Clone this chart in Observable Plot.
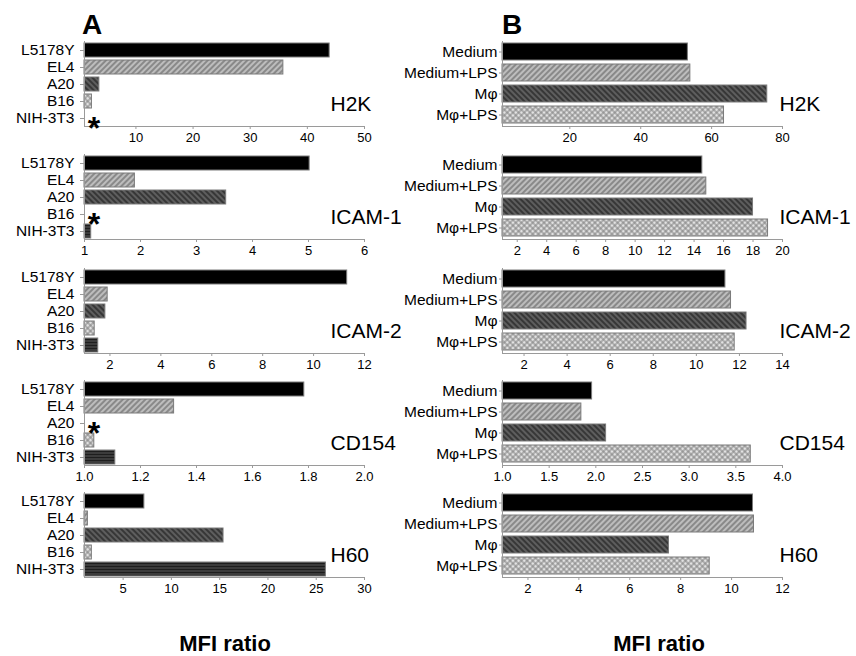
<!DOCTYPE html>
<html><head><meta charset="utf-8">
<script src="https://cdn.jsdelivr.net/npm/d3@7"></script>
<script src="https://cdn.jsdelivr.net/npm/@observablehq/plot@0.6"></script>
<style>
body{margin:0;background:#fff;font-family:"Liberation Sans",Arial,sans-serif;}
#wrap{position:relative;width:856px;height:656px;overflow:hidden;background:#fff;}
.big{position:absolute;font-weight:bold;font-size:28px;line-height:28px;}
.xl{position:absolute;font-weight:bold;font-size:22px;line-height:22px;width:160px;text-align:center;}
</style></head><body>
<svg width="0" height="0" style="position:absolute">
<defs>
<pattern id="pEL4" width="4" height="4" patternUnits="userSpaceOnUse" patternTransform="rotate(45)">
<rect width="4" height="4" fill="#bdbdbd"/><line x1="2" y1="0" x2="2" y2="4" stroke="#666" stroke-width="1.2"/></pattern>
<pattern id="pA20" width="4" height="4" patternUnits="userSpaceOnUse" patternTransform="rotate(-45)">
<rect width="4" height="4" fill="#5e5e5e"/><line x1="2" y1="0" x2="2" y2="4" stroke="#262626" stroke-width="1.4"/></pattern>
<pattern id="pB16" width="4" height="4" patternUnits="userSpaceOnUse" patternTransform="rotate(45)">
<rect width="4" height="4" fill="#e2e2e2"/><line x1="2" y1="0" x2="2" y2="4" stroke="#7e7e7e" stroke-width="1"/><line x1="0" y1="2" x2="4" y2="2" stroke="#7e7e7e" stroke-width="1"/></pattern>
<pattern id="pNIH" width="4" height="3" patternUnits="userSpaceOnUse">
<rect width="4" height="3" fill="#3c3c3c"/><line x1="0" y1="1.5" x2="4" y2="1.5" stroke="#1e1e1e" stroke-width="1"/></pattern>
</defs></svg>
<div id="wrap">
<div class="big" style="left:82px;top:11px">A</div>
<div class="big" style="left:502px;top:11px">B</div>
<div class="xl" style="left:145px;top:633px">MFI ratio</div>
<div class="xl" style="left:579px;top:633px">MFI ratio</div>
</div>
<script>
// ---- data ----
const cellLines = ["L5178Y", "EL4", "A20", "B16", "NIH-3T3"];
const treatments = ["Medium", "Medium+LPS", "M\u03C6", "M\u03C6+LPS"];
const markers = ["H2K", "ICAM-1", "ICAM-2", "CD154", "H60"];
const ratioBaseline = 1;

// Panel A (cell lines); null = not detected (marked by *)
const aH2K   = [43.9, 35.8, 3.6, 2.3, null];
const aICAM1 = [5.02, 1.9, 3.53, null, 1.12];
const aICAM2 = [11.32, 1.91, 1.82, 1.4, 1.54];
const aCD154 = [1.785, 1.32, null, 1.035, 1.11];
const aH60   = [7.2, 1.35, 15.4, 1.76, 26.0];

// Panel B (treatments)
const bH2K   = [53.3, 54.0, 75.7, 63.5];
const bICAM1 = [14.56, 14.83, 18.0, 19.02];
const bICAM2 = [11.35, 11.61, 12.33, 11.78];
const bCD154 = [1.96, 1.845, 2.11, 3.66];
const bH60   = [10.84, 10.88, 7.54, 9.14];

// axis domains and ticks
const domA = [[1, 50], [1, 6], [1, 12], [1, 2], [1, 30]];
const domB = [[1, 80], [1, 20], [1, 14], [1, 4], [1, 12]];
const ticksA_H2K = [10, 20, 30, 40, 50];
const ticksA_ICAM1 = [1, 2, 3, 4, 5, 6];
const ticksA_ICAM2 = [2, 4, 6, 8, 10, 12];
const ticksA_CD154 = [1.0, 1.2, 1.4, 1.6, 1.8, 2.0];
const ticksA_H60 = [5, 10, 15, 20, 25, 30];
const ticksB_H2K = [20, 40, 60, 80];
const ticksB_ICAM1 = [2, 4, 6, 8, 10, 12, 14, 16, 18, 20];
const ticksB_ICAM2 = [2, 4, 6, 8, 10, 12, 14];
const ticksB_CD154 = [1.0, 1.5, 2.0, 2.5, 3.0, 3.5, 4.0];
const ticksB_H60 = [2, 4, 6, 8, 10, 12];

// non-detected markers (asterisks): [marker, cell line]
const starsA = [["H2K", "NIH-3T3"], ["ICAM-1", "B16"], ["CD154", "A20"]];

// ---- styles ----
const fillsA = ["#000000", "url(#pEL4)", "url(#pA20)", "url(#pB16)", "url(#pNIH)"];
const fillsB = fillsA.slice(0, 4);
const plotTops = [41, 154, 268, 380, 492];
const PH = 85, MT = 2, MB = 26;

const valsA = [aH2K, aICAM1, aICAM2, aCD154, aH60];
const valsB = [bH2K, bICAM1, bICAM2, bCD154, bH60];
const ticksA = [ticksA_H2K, ticksA_ICAM1, ticksA_ICAM2, ticksA_CD154, ticksA_H60];
const ticksB = [ticksB_H2K, ticksB_ICAM1, ticksB_ICAM2, ticksB_CD154, ticksB_H60];
const fmtA = [d3.format("d"), d3.format("d"), d3.format("d"), d3.format(".1f"), d3.format("d")];
const fmtB = [d3.format("d"), d3.format("d"), d3.format("d"), d3.format(".1f"), d3.format("d")];

const wrap = document.getElementById("wrap");

function panel(o) {
  const data = o.cats.map((c, i) => ({cat: c, v: o.values[i]})).filter(d => d.v != null);
  const marks = [
    Plot.barX(data, {y: "cat", x1: ratioBaseline, x2: "v", fill: "cat", stroke: "#7a7a7a", strokeWidth: 1}),
    Plot.frame({anchor: "bottom", stroke: "#9a9a9a"}),
    Plot.frame({anchor: "left", stroke: "#9a9a9a"}),
    Plot.axisX({ticks: o.ticks, tickFormat: o.fmt, tickSize: 3, tickPadding: 3, stroke: "#9a9a9a", fill: "#000", fontSize: 13, label: null}),
    Plot.axisY({tickSize: o.tickY, tickPadding: o.padY, stroke: "#9a9a9a", fill: "#000", fontSize: 15.5, label: null}),
    Plot.text([o.marker], {frameAnchor: "bottom-left", dx: o.labelDx, dy: -16, text: d => d, fontSize: 21, textAnchor: "start", fill: "#000"})
  ];
  if (o.stars.length) {
    marks.push(Plot.text(o.stars, {y: d => d, frameAnchor: "left", text: () => "*", dx: 9.5, dy: 10, fontSize: 32, fontWeight: "bold", textAnchor: "middle", fill: "#000"}));
  }
  const svg = Plot.plot({
    width: o.width, height: MT + PH + MB,
    marginLeft: o.mLeft, marginRight: o.mRight, marginTop: MT, marginBottom: MB,
    x: {domain: o.domain},
    y: {domain: o.cats, paddingInner: o.pi, paddingOuter: o.po},
    color: {domain: o.cats, range: o.fills},
    style: {fontFamily: "'Liberation Sans', Arial, sans-serif", background: "transparent", overflow: "visible"},
    marks
  });
  svg.style.position = "absolute";
  svg.style.left = o.left + "px";
  svg.style.top = (o.top - MT) + "px";
  svg.style.maxWidth = "none";
  wrap.appendChild(svg);
}

markers.forEach((m, i) => {
  panel({
    cats: cellLines, values: valsA[i], domain: domA[i], ticks: ticksA[i], fmt: fmtA[i],
    marker: m, stars: starsA.filter(s => s[0] === m).map(s => s[1]),
    fills: fillsA, left: 0, top: plotTops[i], width: 380, mLeft: 84, mRight: 16,
    tickY: 4, padY: 6, labelDx: 246, pi: 0.2, po: 0.05
  });
  panel({
    cats: treatments, values: valsB[i], domain: domB[i], ticks: ticksB[i], fmt: fmtB[i],
    marker: m, stars: [],
    fills: fillsB, left: 380, top: plotTops[i], width: 476, mLeft: 122, mRight: 74,
    tickY: 3, padY: 2, labelDx: 277, pi: 0.18, po: 0.04
  });
});
</script>
</body></html>
